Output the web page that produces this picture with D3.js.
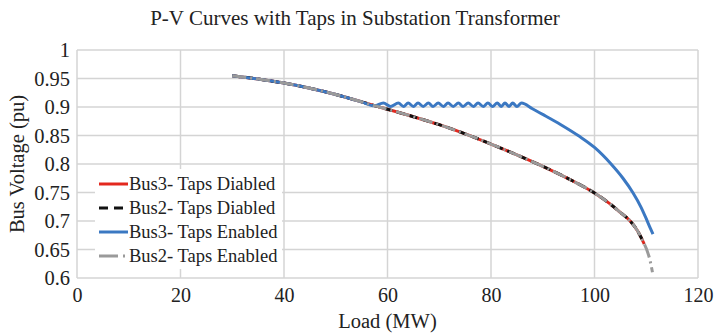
<!DOCTYPE html>
<html><head><meta charset="utf-8">
<script src="https://cdn.jsdelivr.net/npm/d3@7"></script>
<style>body{margin:0;background:#fff}svg{display:block}</style>
</head><body><div id="chart"></div>
<script>
// ---- data ----
const xTicks = [0, 20, 40, 60, 80, 100, 120];
const yTicks = [0.6, 0.65, 0.7, 0.75, 0.8, 0.85, 0.9, 0.95, 1];
const yTickLabels = ["0.6", "0.65", "0.7", "0.75", "0.8", "0.85", "0.9", "0.95", "1"];
const seriesNames = ["Bus3- Taps Diabled", "Bus2- Taps Diabled", "Bus3- Taps Enabled", "Bus2- Taps Enabled"];

const bus3Disabled = [
  [30,0.955],[35,0.949],[40,0.942],[45,0.933],[50,0.922],[55,0.909],[58,0.901],[60,0.896],
  [65,0.883],[70,0.869],[75,0.853],[80,0.835],[85,0.816],[90,0.796],[95,0.774],[100,0.749],
  [103,0.73],[105,0.715],[106.9,0.7],[108.3,0.683],[109.6,0.66]
];
const bus2Disabled = [
  [30,0.955],[35,0.949],[40,0.942],[45,0.933],[50,0.922],[55,0.909],[58,0.901],[60,0.896],
  [65,0.883],[70,0.869],[75,0.853],[80,0.835],[85,0.816],[90,0.796],[95,0.774],[100,0.749],
  [103,0.73],[105,0.715],[106.9,0.7],[108.3,0.683],[109.6,0.66]
];
const bus3Enabled = [
  [30,0.955],[35,0.949],[40,0.942],[45,0.933],[50,0.922],[55,0.909],[57.5,0.902],
  [59.2,0.907],[60.6,0.901],[62.1,0.907],[63.1,0.901],[64.0,0.907],[65.0,0.901],[65.9,0.907],
  [66.9,0.901],[67.9,0.907],[68.8,0.901],[69.8,0.907],[70.8,0.901],[71.7,0.907],[72.7,0.901],
  [73.7,0.907],[74.6,0.901],[75.6,0.907],[76.6,0.901],[77.5,0.907],[78.5,0.901],[79.4,0.907],
  [80.3,0.901],[81.2,0.907],[82.0,0.901],[82.7,0.907],[83.5,0.901],[84.2,0.907],[85.0,0.901],
  [85.9,0.907],[88,0.897],[90,0.887],[93.5,0.869],[97,0.849],[100,0.829],
  [103.2,0.8],[105.5,0.775],[107.4,0.75],[109,0.724],[110,0.704],[110.8,0.687],[111.3,0.677]
];
const bus2Enabled = [
  [30,0.955],[35,0.949],[40,0.942],[45,0.933],[50,0.922],[55,0.909],[58,0.901],[60,0.896],
  [65,0.883],[70,0.869],[75,0.853],[80,0.835],[85,0.816],[90,0.796],[95,0.774],[100,0.749],
  [103,0.73],[105,0.715],[106.9,0.7],[108.3,0.683],[109.6,0.66],[110.2,0.647],[110.7,0.632],[111.2,0.61]
];

// ---- chart ----
const FONT = "Liberation Serif, serif";
const W = 714, H = 334;
const m = {left: 77, right: 16, top: 50, bottom: 56};
const svg = d3.select("#chart").append("svg").attr("width", W).attr("height", H)
  .attr("font-family", FONT);
const x = d3.scaleLinear().domain([0, 120]).range([m.left, W - m.right]);
const y = d3.scaleLinear().domain([0.6, 1]).range([H - m.bottom, m.top]);

const gridC = "#d4d4d4";
svg.append("g").selectAll("line").data(xTicks).join("line")
  .attr("x1", d => x(d)).attr("x2", d => x(d)).attr("y1", y(0.6)).attr("y2", y(1))
  .attr("stroke", gridC).attr("stroke-width", 1.5);
svg.append("g").selectAll("line").data(yTicks).join("line")
  .attr("x1", x(0)).attr("x2", x(120)).attr("y1", d => y(d)).attr("y2", d => y(d))
  .attr("stroke", gridC).attr("stroke-width", 1.5);

const xAxis = svg.append("g").attr("transform", `translate(0,${y(0.6)})`)
  .call(d3.axisBottom(x).tickValues(xTicks).tickSize(0).tickPadding(10).tickFormat(d3.format("d")));
xAxis.attr("font-family", FONT).attr("font-size", 20);
xAxis.select(".domain").remove();
xAxis.selectAll("text").attr("fill", "#222");

const yAxis = svg.append("g").attr("transform", `translate(${x(0)},0)`)
  .call(d3.axisLeft(y).tickValues(yTicks).tickSize(0).tickPadding(7).tickFormat((d, i) => yTickLabels[i]));
yAxis.attr("font-family", FONT).attr("font-size", 20.5);
yAxis.select(".domain").remove();
yAxis.selectAll("text").attr("fill", "#222");

svg.append("text").attr("x", 355).attr("y", 25).attr("text-anchor", "middle")
  .attr("font-size", 21).attr("fill", "#222").text("P-V Curves with Taps in Substation Transformer");
svg.append("text").attr("x", (x(0) + x(120)) / 2).attr("y", 328).attr("text-anchor", "middle")
  .attr("font-size", 20.5).attr("fill", "#222").text("Load (MW)");
svg.append("text").attr("transform", `translate(24,${(y(0.6) + y(1)) / 2}) rotate(-90)`)
  .attr("text-anchor", "middle").attr("font-size", 20.5).attr("fill", "#222").text("Bus Voltage (pu)");

const smooth = d3.line().curve(d3.curveMonotoneX).x(d => x(d[0])).y(d => y(d[1]));
const styles = [
  {data: bus3Disabled, color: "#e3281e", dash: null},
  {data: bus2Disabled, color: "#111111", dash: "8,5"},
  {data: bus3Enabled, color: "#3b78c2", dash: null},
  {data: bus2Enabled, color: "#9a9a9a", dash: "14,4,2,4"}
];
styles.forEach(s => {
  svg.append("path").datum(s.data).attr("d", smooth).attr("fill", "none")
    .attr("stroke", s.color).attr("stroke-width", 3).attr("stroke-dasharray", s.dash)
    .attr("stroke-linejoin", "round");
});

// legend
const lg = svg.append("g");
lg.append("rect").attr("x", 95).attr("y", 169).attr("width", 187).attr("height", 100).attr("fill", "#fff");
seriesNames.forEach((n, i) => {
  const yy = 184 + i * 24;
  lg.append("line").attr("x1", 99).attr("x2", 128).attr("y1", yy).attr("y2", yy)
    .attr("stroke", styles[i].color).attr("stroke-width", 3).attr("stroke-dasharray", i === 1 ? "9,6" : (i === 3 ? "19,5,2,5" : null));
  lg.append("text").attr("x", 129).attr("y", yy + 6).attr("font-size", 18.5).attr("fill", "#222").text(n);
});
</script></body></html>
